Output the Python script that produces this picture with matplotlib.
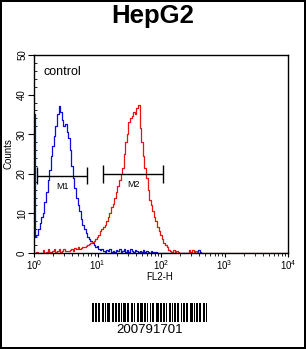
import numpy as np
import matplotlib
matplotlib.use('Agg')
import matplotlib.pyplot as plt
from matplotlib.ticker import LogLocator, MultipleLocator

plt.rcParams['font.family'] = ['Liberation Sans', 'DejaVu Sans']

# histogram channels, 40 per decade (log10 of FL2-H)
step = 0.025

# control histogram (blue), starts at log 0
blue_counts = [35, 4, 4.5, 6, 7.5, 9, 10, 13, 15.5, 18.5,
               21, 24.5, 27, 29.5, 32, 35, 37, 35.5, 33.5, 32,
               32.5, 30.5, 29, 26, 22, 19, 16.5, 14, 12, 10.5,
               8.5, 7, 6, 5, 4, 3.5, 3, 2.5, 2, 1.5,
               1.8, 1.0, 0.8, 1.0, 0.5, 0.3, 0.8, 0.5, 1.0, 0.3,
               0.6, 0.2, 0.8, 0.4, 0.9, 0.3, 0.5, 1.0, 0.3, 0.7,
               0.2, 0.9, 0.5, 0.3, 0.8, 0.4, 0.2, 0.6, 0.3, 0.8,
               0.2, 0.5, 0.3, 0.1, 0.4, 0.2, 0.0, 0.3, 0.0, 0.0,
               0.0, 0.0, 0.0, 0.0, 0.0, 0.0, 0.0, 0.0, 0.0, 0.0,
               0.0, 0.0, 0.0, 0.0, 0.0, 0.0, 0.0, 0.0, 0.0, 0.0,
               0.0, 0.0, 0.0, 0.0, 0.8, 0.2, 0.0]

# HepG2 sample histogram (red), starts at log 0
red_counts = [0, 0, 0.3, 0, 0, 0, 0.8, 0, 0.3, 0.9,
              0.2, 0, 0.5, 1.0, 0.2, 0.5, 0.9, 0.2, 0.6, 1.0,
              0.4, 0.6, 0.4, 0.8, 1.0, 0.6, 1.2, 0.9, 1.4, 1.0,
              1.2, 1.5, 1.5, 1.8, 2.0, 2.2, 2.5, 2.8, 3.0, 3.5,
              4.0, 4.5, 5.5, 6.0, 6.5, 7.0, 8.0, 9.0, 10.0, 11.5,
              12.5, 14.0, 15.5, 17.0, 18.5, 20.0, 21.5, 25.0, 28.0, 30.0,
              33.0, 34.0, 34.5, 35.5, 35.0, 36.5, 37.5, 31.5, 28.0, 24.5,
              21.5, 19.0, 16.0, 13.5, 12.0, 10.5, 9.0, 8.0, 6.5, 5.5,
              4.5, 3.5, 2.5, 2.0, 1.5, 0.8, 0.5, 0.3, 0.8, 0.3,
              0.5, 0.2, 0.0, 0.0, 0.0, 0.0, 0.0, 0.0, 0.8, 0.3,
              0.8, 0.2, 0.6, 0.0]

# gate markers: (label, low, high, counts level)
markers = [('M1', 1.13, 6.75, 19.5), ('M2', 12.3, 109.0, 20.0)]

title = 'HepG2'
sample_id = '200791701'
barcode = ('1101101100110101110011011011001011101100110100110111011010'
           '01011001110110110100110101101110010110110011101011011001101')

fig = plt.figure(figsize=(3.06, 3.49), dpi=100)
fig.patch.set_edgecolor('black')
fig.patch.set_linewidth(1.5)

ax = fig.add_axes([34 / 306, 1 - 253 / 349, 254 / 306, 198 / 349])

bx = 10 ** (np.arange(len(blue_counts)) * step)
rx = 10 ** (np.arange(len(red_counts)) * step)
rx = np.append(rx, 1e4)
red_y = red_counts + [0.0]
ax.step(bx, blue_counts, where='mid', color='#0d0dd9', lw=0.9)
ax.step(rx, red_y, where='mid', color='#e81414', lw=0.9)

for name, lo, hi, lvl in markers:
    ax.hlines(lvl, lo, hi, color='black', lw=1)
    ax.vlines([lo, hi], lvl - 2.2, lvl + 2.2, color='black', lw=1)
    mid = 10 ** ((np.log10(lo) + np.log10(hi)) / 2)
    ax.text(mid, lvl - 1.5, name, ha='center', va='top', fontsize=6.5)

ax.text(1.42, 45.8, 'control', ha='left', va='center', fontsize=9)

ax.set_xscale('log')
ax.set_xlim(1, 1e4)
ax.set_ylim(0, 50)
ax.xaxis.set_major_locator(LogLocator(base=10, numticks=10))
ax.xaxis.set_minor_locator(LogLocator(base=10, subs=np.arange(2, 10), numticks=10))
ax.yaxis.set_major_locator(MultipleLocator(10))
ax.yaxis.set_minor_locator(MultipleLocator(2))
ax.tick_params(axis='x', which='major', direction='out', length=3, labelsize=7, pad=1)
ax.tick_params(axis='x', which='minor', direction='out', length=2)
ax.tick_params(axis='y', which='major', direction='out', length=4, labelsize=7, pad=1)
ax.tick_params(axis='y', which='minor', direction='in', length=2)
for lab in ax.get_yticklabels():
    lab.set_rotation(90)
    lab.set_va('center')
ax.set_xlabel('FL2-H', fontsize=7)
ax.set_ylabel('Counts', fontsize=7)
ax.xaxis.set_label_coords(126 / 254, -19 / 198)
ax.yaxis.set_label_coords(-20 / 254, 0.5)
for sp in ax.spines.values():
    sp.set_linewidth(1)

fig.text(0.5, 1 - 16 / 349, title, ha='center', va='center',
         fontsize=18.5, fontweight='bold')

bc = fig.add_axes([92 / 306, 1 - 322 / 349, 115 / 306, 19 / 349])
bc.imshow(np.array([[int(c) for c in barcode]]), cmap='gray_r',
          aspect='auto', interpolation='nearest')
bc.axis('off')
fig.text(150 / 306, 1 - 330 / 349, sample_id, ha='center', va='center', fontsize=9.5)

fig.savefig('out.png', dpi=100)
